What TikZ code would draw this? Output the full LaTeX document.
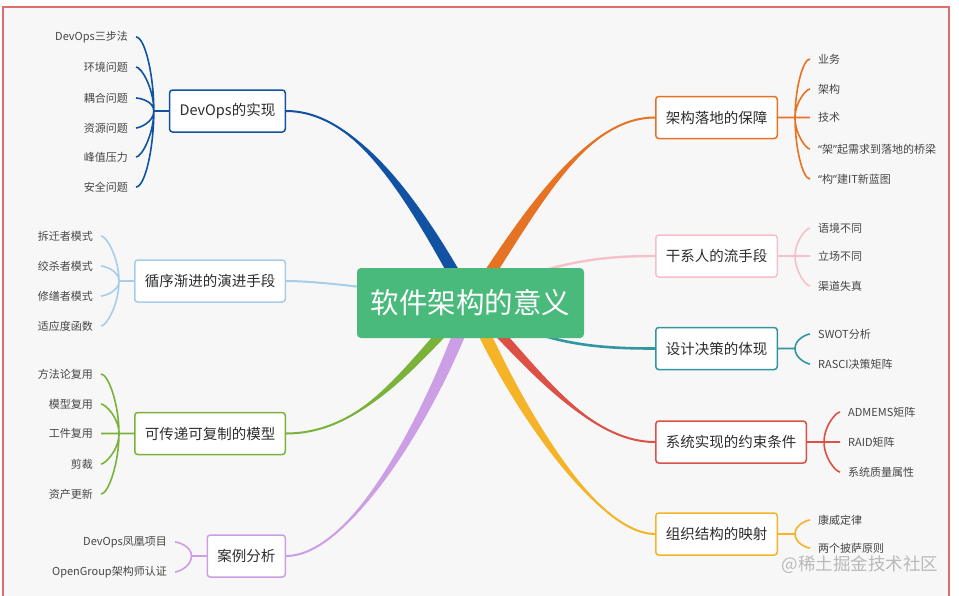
\documentclass[tikz,border=0pt]{standalone}
\usepackage{fontspec}
\usepackage{tikz}
\usepackage{xcolor}
\usetikzlibrary{positioning,backgrounds}
\newfontfamily\cjk{Noto Sans CJK SC}
\newfontfamily\quotefont{Noto Sans}
\definecolor{paper}{RGB}{247,247,247}
\definecolor{framered}{RGB}{222,110,110}
\definecolor{rootgreen}{RGB}{74,186,124}
\definecolor{ink}{RGB}{45,45,45}
\definecolor{leafink}{RGB}{70,70,70}
\definecolor{devblue}{RGB}{18,82,163}
\definecolor{evoblue}{RGB}{166,205,234}
\definecolor{modelgreen}{RGB}{122,178,58}
\definecolor{casepurple}{RGB}{204,158,230}
\definecolor{guardorange}{RGB}{230,115,35}
\definecolor{stakepink}{RGB}{245,192,200}
\definecolor{designteal}{RGB}{50,150,160}
\definecolor{sysred}{RGB}{220,80,70}
\definecolor{orgyellow}{RGB}{245,180,40}
% tapered main branch: colour, from, out control, in control, to
\newcommand{\limb}[5]{%
  \fill[#1] (#2) .. controls +#3 and +#4 .. ([xshift=7pt]#5)
    -- ([xshift=-7pt]#5) .. controls +#4 and +#3 .. (#2) -- cycle;
  \draw[#1, line width=2pt] (#2) .. controls +#3 and +#4 .. (#5);}
\newcommand{\openq}{{\quotefont “}}
\newcommand{\closeq}{{\quotefont ”}}

\begin{document}
\begin{tikzpicture}[x=1pt, y=-1pt,
  every node/.style={font=\cjk},
  root/.style={fill=rootgreen, rounded corners=4pt, text=white,
               minimum width=227pt, minimum height=70pt,
               font=\cjk\fontsize{28.5}{30}\selectfont},
  topic/.style={draw, line width=1.5pt, rounded corners=3pt, fill=white,
                text=ink, minimum height=42pt, inner xsep=10pt,
                font=\cjk\fontsize{14.5}{16}\selectfont},
  leaf/.style={text=leafink, inner xsep=8pt, inner ysep=1pt,
               font=\cjk\fontsize{11}{12}\selectfont},
  brace/.style={line width=1.6pt, out looseness=0.3, in looseness=1.2},
]
\useasboundingbox (0,0) rectangle (959,595);

% Centre
\node[root] (root) at (470.5,303) {软件架构的意义};

% Topics, left
\node[topic, draw=devblue, anchor=east] (dev) at (286,111) {DevOps的实现};
\node[topic, draw=evoblue, anchor=east] (evo) at (286,281) {循序渐进的演进手段};
\node[topic, draw=modelgreen, anchor=east] (model) at (286,433.5) {可传递可复制的模型};
\node[topic, draw=casepurple, anchor=east] (case) at (286,556) {案例分析};
% Topics, right
\node[topic, draw=guardorange, anchor=west] (guard) at (655,117.5) {架构落地的保障};
\node[topic, draw=stakepink, anchor=west] (stake) at (655,256) {干系人的流手段};
\node[topic, draw=designteal, anchor=west] (design) at (655,348.5) {设计决策的体现};
\node[topic, draw=sysred, anchor=west] (system) at (655,442) {系统实现的约束条件};
\node[topic, draw=orgyellow, anchor=west] (org) at (655,534) {组织结构的映射};

% Brace stems
\coordinate[left=15pt of dev] (devS);
\coordinate[left=15pt of evo] (evoS);
\coordinate[left=15pt of model] (modelS);
\coordinate[left=15pt of case] (caseS);
\coordinate[right=17pt of guard] (guardS);
\coordinate[right=17pt of stake] (stakeS);
\coordinate[right=17pt of design] (designS);
\coordinate[right=17pt of system] (systemS);
\coordinate[right=17pt of org] (orgS);

% Leaves, left
\node[leaf, anchor=east] (devA) at (136,37) {DevOps三步法};
\node[leaf, anchor=east] (devB) at (136,67) {环境问题};
\node[leaf, anchor=east] (devC) at (136,98) {耦合问题};
\node[leaf, anchor=east] (devD) at (136,128) {资源问题};
\node[leaf, anchor=east] (devE) at (136,157) {峰值压力};
\node[leaf, anchor=east] (devF) at (136,187) {安全问题};

\node[leaf, anchor=east] (evoA) at (101,236) {拆迁者模式};
\node[leaf, anchor=east] (evoB) at (101,266) {绞杀者模式};
\node[leaf, anchor=east] (evoC) at (101,296) {修缮者模式};
\node[leaf, anchor=east] (evoD) at (101,326) {适应度函数};

\node[leaf, anchor=east] (modelA) at (101,374) {方法论复用};
\node[leaf, anchor=east] (modelB) at (101,404) {模型复用};
\node[leaf, anchor=east] (modelC) at (101,433.5) {工件复用};
\node[leaf, anchor=east] (modelD) at (101,464) {剪裁};
\node[leaf, anchor=east] (modelE) at (101,494) {资产更新};

\node[leaf, anchor=east] (caseA) at (175,542) {DevOps凤凰项目};
\node[leaf, anchor=east] (caseB) at (175,572) {OpenGroup架构师认证};

% Leaves, right
\node[leaf, anchor=west] (guardA) at (810,59) {业务};
\node[leaf, anchor=west] (guardB) at (810,89) {架构};
\node[leaf, anchor=west] (guardC) at (810,117.5) {技术};
\node[leaf, anchor=west] (guardD) at (810,149) {\openq 架\closeq 起需求到落地的桥梁};
\node[leaf, anchor=west] (guardE) at (810,179) {\openq 构\closeq 建IT新蓝图};

\node[leaf, anchor=west] (stakeA) at (810,228) {语境不同};
\node[leaf, anchor=west] (stakeB) at (810,256) {立场不同};
\node[leaf, anchor=west] (stakeC) at (810,286) {渠道失真};

\node[leaf, anchor=west] (designA) at (810,334) {SWOT分析};
\node[leaf, anchor=west] (designB) at (810,364) {RASCI决策矩阵};

\node[leaf, anchor=west] (systemA) at (840,412) {ADMEMS矩阵};
\node[leaf, anchor=west] (systemB) at (840,442) {RAID矩阵};
\node[leaf, anchor=west] (systemC) at (840,472) {系统质量属性};

\node[leaf, anchor=west] (orgA) at (810,520) {康威定律};
\node[leaf, anchor=west] (orgB) at (810,548) {两个披萨原则};

% Watermark
\node[text=gray!55, anchor=east, font=\cjk\fontsize{17.5}{20}\selectfont]
  (mark) at (942,565) {@稀土掘金技术社区};

% Main branches
\begin{scope}[on background layer]
\fill[paper] (3,7) rectangle (949,600);
\draw[draw=framered, line width=1.2pt] (3,7) rectangle (949,600);
\limb{devblue}{dev.east}{(70,0)}{(-57,-105)}{root.center}
\limb{guardorange}{guard.west}{(-70,0)}{(60,-92)}{root.center}
\limb{modelgreen}{model.east}{(80,0)}{(-55,55)}{root.center}
\limb{casepurple}{case.east}{(70,0)}{(-30,90)}{root.center}
\limb{sysred}{system.west}{(-70,0)}{(55,55)}{root.center}
\limb{orgyellow}{org.west}{(-60,0)}{(40,95)}{root.center}
\draw[evoblue, line width=2pt] (evo.east) .. controls +(40,0) and +(-60,-10) .. (root.center);
\draw[stakepink, line width=2.4pt] (stake.west) .. controls +(-60,0) and +(70,-40) .. (root.center);
\draw[designteal, line width=2.6pt] (design.west) .. controls +(-60,0) and +(70,42) .. (root.center);
\end{scope}

% Braces, left
\draw[brace, devblue]
  (devA.east) to[out=0, in=90] (devS) (devB.east) to[out=0, in=90] (devS)
  (devC.east) to[out=0, in=90] (devS) (devD.east) to[out=0, in=-90] (devS)
  (devE.east) to[out=0, in=-90] (devS) (devF.east) to[out=0, in=-90] (devS)
  (devS) -- (dev.west);
\draw[brace, evoblue]
  (evoA.east) to[out=0, in=90] (evoS) (evoB.east) to[out=0, in=90] (evoS)
  (evoC.east) to[out=0, in=-90] (evoS) (evoD.east) to[out=0, in=-90] (evoS)
  (evoS) -- (evo.west);
\draw[brace, modelgreen]
  (modelA.east) to[out=0, in=90] (modelS) (modelB.east) to[out=0, in=90] (modelS)
  (modelC.east) -- (modelS)
  (modelD.east) to[out=0, in=-90] (modelS) (modelE.east) to[out=0, in=-90] (modelS)
  (modelS) -- (model.west);
\draw[brace, casepurple]
  (caseA.east) to[out=0, in=90] (caseS) (caseB.east) to[out=0, in=-90] (caseS)
  (caseS) -- (case.west);

% Braces, right
\draw[brace, guardorange]
  (guardA.west) to[out=180, in=90] (guardS) (guardB.west) to[out=180, in=90] (guardS)
  (guardC.west) -- (guardS)
  (guardD.west) to[out=180, in=-90] (guardS) (guardE.west) to[out=180, in=-90] (guardS)
  (guardS) -- (guard.east);
\draw[brace, stakepink]
  (stakeA.west) to[out=180, in=90] (stakeS) (stakeB.west) -- (stakeS)
  (stakeC.west) to[out=180, in=-90] (stakeS)
  (stakeS) -- (stake.east);
\draw[brace, designteal]
  (designA.west) to[out=180, in=90] (designS) (designB.west) to[out=180, in=-90] (designS)
  (designS) -- (design.east);
\draw[brace, sysred]
  (systemA.west) to[out=180, in=90] (systemS) (systemB.west) -- (systemS)
  (systemC.west) to[out=180, in=-90] (systemS)
  (systemS) -- (system.east);
\draw[brace, orgyellow]
  (orgA.west) to[out=180, in=90] (orgS) (orgB.west) to[out=180, in=-90] (orgS)
  (orgS) -- (org.east);
\end{tikzpicture}
\end{document}
